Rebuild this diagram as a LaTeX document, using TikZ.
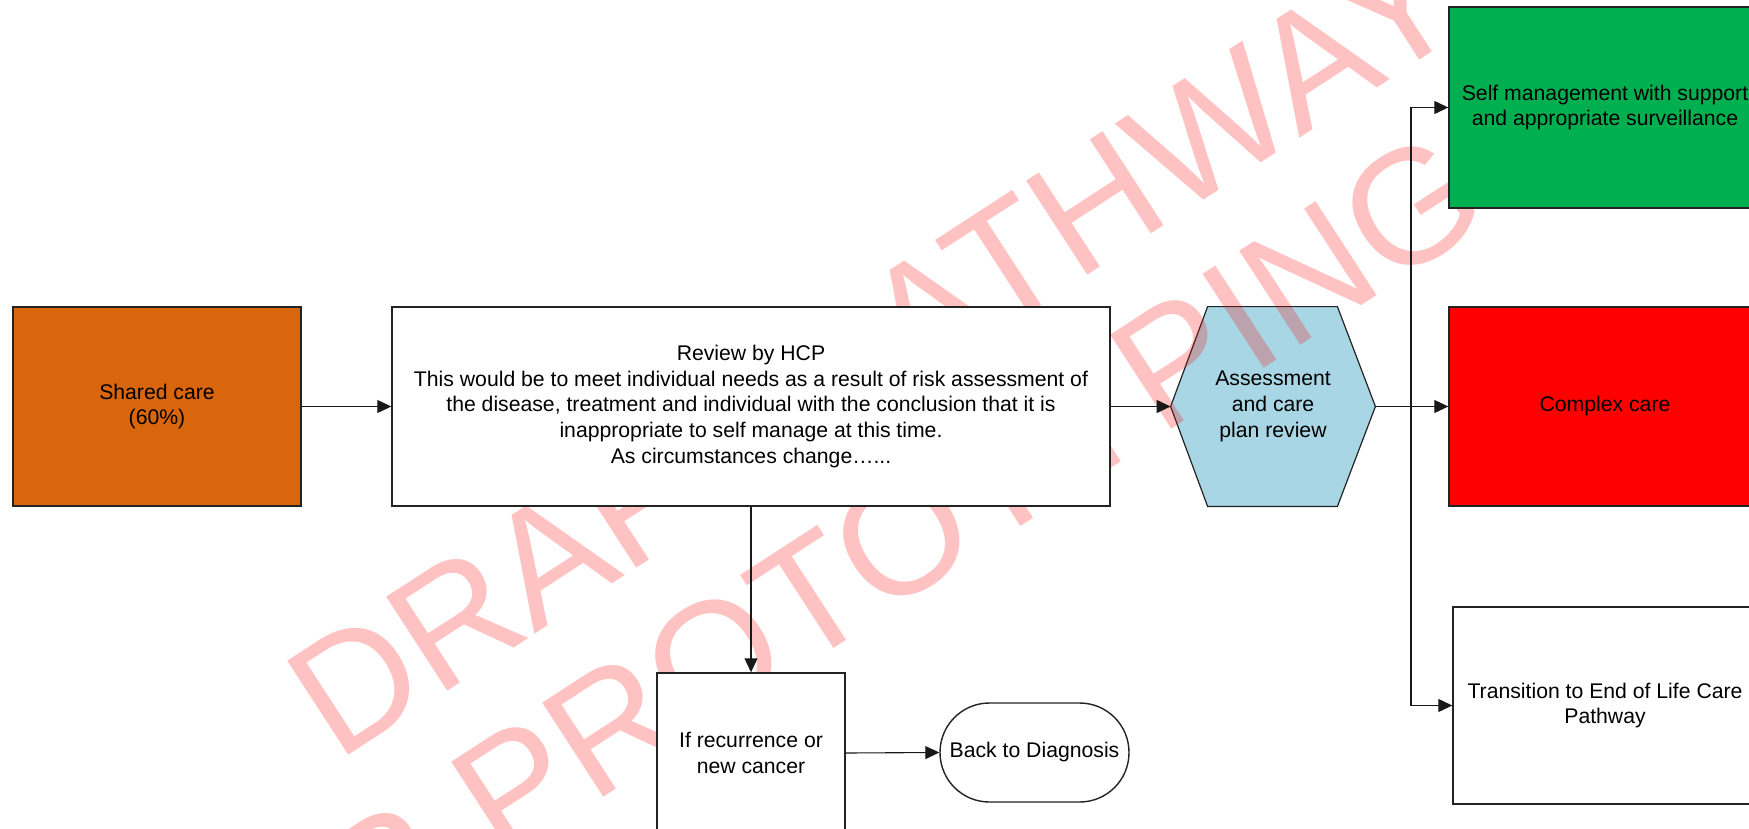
\documentclass[tikz,border=0pt]{standalone}
\usepackage{fontspec}
\setmainfont{Liberation Sans}
\usetikzlibrary{arrows.meta,calc}
\definecolor{orangeC}{RGB}{217,102,12}
\definecolor{greenC}{RGB}{0,176,80}
\definecolor{hexC}{RGB}{168,214,228}
\definecolor{lineC}{RGB}{35,35,35}
\pgfdeclarelayer{bg}
\pgfsetlayers{bg,main}
\begin{document}
\begin{tikzpicture}[x=0.5pt,y=-0.5pt,
  txt/.style={inner sep=0pt, align=center, font=\fontsize{10.6pt}{12.9pt}\selectfont},
  box/.style={txt, draw=lineC, line width=0.7pt, rectangle},
  arr/.style={draw=black!90, line width=0.55pt, -{Triangle[length=7pt,width=6.5pt]}},
  wm/.style={text=red, text opacity=0.24, font=\fontsize{81.5pt}{95pt}\selectfont, rotate=33, anchor=base west, inner sep=0pt}
]
\useasboundingbox (0,0) rectangle (1749,829);
\clip (0,0) rectangle (1749,829);
% watermark
\node[wm] (wm1) at (337,763) {DRAFT PATHWAY};
\node[wm] (wm2) at (175,1076) {FOR PROTOTYPING};
% nodes
\node[box, fill=orangeC, minimum width=144pt, minimum height=99.5pt] (shared) at (157,406.5) {Shared care\\(60\%)};
\node[box, fill=white, minimum width=359pt, minimum height=99.5pt] (review) at (751,406.5)
  {Review by HCP\\This would be to meet individual needs as a result of risk assessment of\\the disease, treatment and individual with the conclusion that it is\\inappropriate to self manage at this time.\\As circumstances change…...};
\node[txt, minimum width=102pt, minimum height=99.5pt] (hex) at (1273,406.5) {Assessment\\and care\\plan review};
\begin{pgfonlayer}{bg}
\filldraw[fill=hexC, draw=lineC, line width=0.6pt] (hex.west) -- ($(hex.north west)+(37,0)$) -- ($(hex.north east)+(-38,0)$) -- (hex.east) -- ($(hex.south east)+(-38,0)$) -- ($(hex.south west)+(37,0)$) -- cycle;
\end{pgfonlayer}
\node[box, fill=greenC, minimum width=156pt, minimum height=100.5pt] (green) at (1605,107.5) {Self management with support\\and appropriate surveillance};
\node[box, fill=red, minimum width=156pt, minimum height=99.5pt] (red) at (1605,406.5) {Complex care};
\node[box, fill=white, minimum width=152pt, minimum height=98.5pt] (trans) at (1605,705.5) {Transition to End of Life Care\\Pathway};
\node[box, fill=white, minimum width=94pt, minimum height=80pt] (recur) at (751,753) {If recurrence or\\new cancer};
\node[box, fill=white, rounded corners=24.7pt, minimum width=94.5pt, minimum height=49.5pt] (back) at (1034.5,752.5) {Back to Diagnosis};
% connectors
\coordinate (j) at (1411,406.5);
\draw[arr] (shared.east) -- (review.west);
\draw[arr] (review.east) -- (hex.west);
\draw[arr] (hex.east) -- (red.west);
\draw[arr] (j) |- (green.west);
\draw[arr] (j) |- (trans.west);
\draw[arr] (review.south) -- (recur.north);
\draw[arr] (recur.east) -- (back.west);
\end{tikzpicture}
\end{document}
